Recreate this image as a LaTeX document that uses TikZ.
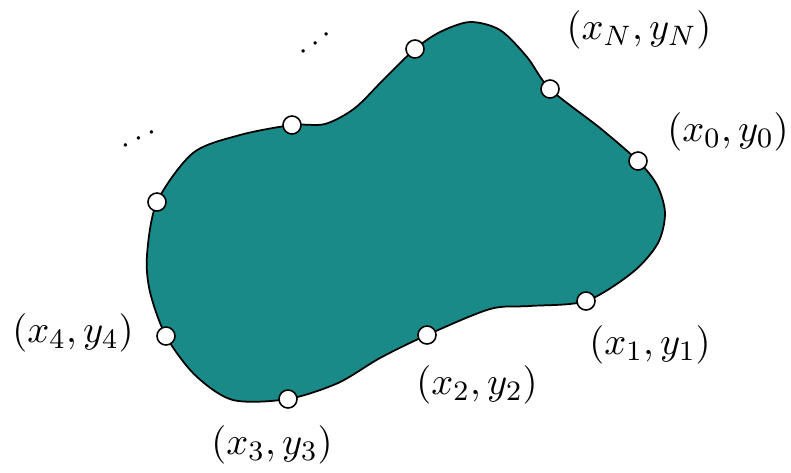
\documentclass[tikz,border=0pt]{standalone}
\usepackage{amsmath}
\usepackage{xcolor}
\usepackage{tikz}
\usetikzlibrary{positioning}
\definecolor{blobteal}{HTML}{198A88}

\begin{document}
\begin{tikzpicture}[
  x=0.01cm, y=-0.01cm,
  every node/.style={font=\fontsize{11}{13}\selectfont},
  pt/.style={circle, draw=black, fill=white, line width=0.45pt,
             minimum size=0.18cm, inner sep=0pt},
  lbl/.style={inner sep=1pt},
  etc/.style={inner sep=0pt, font=\fontsize{9}{11}\selectfont},
]
\useasboundingbox (0,0) rectangle (791,472);

% the region
\draw[fill=blobteal, line width=0.5pt] plot[smooth cycle, tension=0.5] coordinates {
  (638,161) (657,185) (665,213) (658,243) (633,272) (586,301)
  (530,306) (490,309) (427,335) (380,358) (338,383) (288,399)
  (233,400) (195,375) (166,336) (150,292) (147,255) (157,202)
  (193,153) (240,135) (292,125) (325,124) (355,108) (385,78)
  (415,49) (440,32) (470,22) (500,30) (527,57) (550,89) (600,128)};

% boundary points
\node[pt] (p0) at (638,161) {};
\node[pt] (p1) at (586,301) {};
\node[pt] (p2) at (427,335) {};
\node[pt] (p3) at (288,399) {};
\node[pt] (p4) at (166,336) {};
\node[pt] (p5) at (157,202) {};
\node[pt] (p6) at (292,125) {};
\node[pt] (p7) at (415,49) {};
\node[pt] (pN) at (550,89) {};

% labels
\node[lbl] (l0) at (728,132) {$(x_0,y_0)$};
\node[lbl] (l1) at (650,345) {$(x_1,y_1)$};
\node[lbl] (l2) at (477,385) {$(x_2,y_2)$};
\node[lbl] (l3) at (272,445) {$(x_3,y_3)$};
\node[lbl] (l4) at (73,333) {$(x_4,y_4)$};
\node[lbl] (lN) at (639,30) {$(x_N,y_N)$};

\node[etc, rotate=35] (d1) at (318,42) {$\cdots$};
\node[etc, rotate=27] (d2) at (142,138) {$\cdots$};
\end{tikzpicture}
\end{document}
